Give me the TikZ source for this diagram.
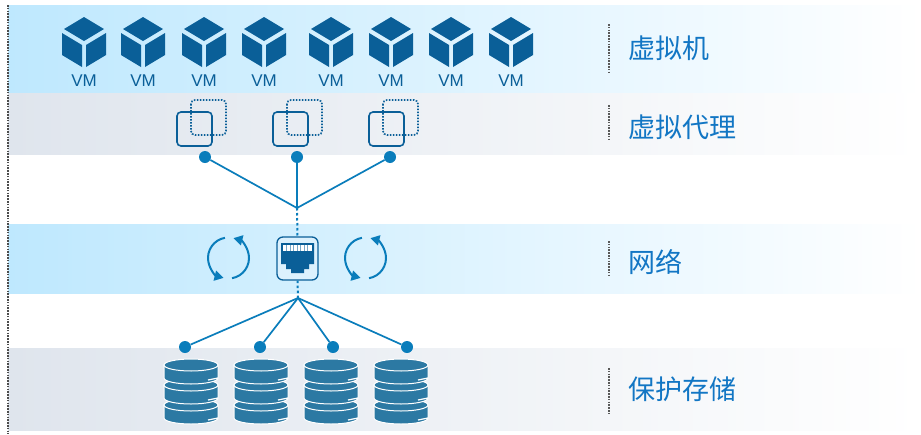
\documentclass[tikz,border=0pt]{standalone}
\usepackage{fontspec}
\setmainfont{Liberation Sans}
\newfontfamily\cjk{Noto Sans CJK SC}
\usetikzlibrary{arrows.meta}
\definecolor{vmblue}{HTML}{0A5F98}
\definecolor{diskblue}{HTML}{2C79A3}
\definecolor{linkblue}{HTML}{0A7DBB}
\definecolor{textblue}{HTML}{1276C4}
\definecolor{bandblue}{HTML}{BEE8FE}
\definecolor{bandbluemid}{HTML}{D8F0FE}
\definecolor{bandgrey}{HTML}{DFE5ED}
\definecolor{bandgreymid}{HTML}{EBEEF3}
\definecolor{portfill}{HTML}{DCF1FD}
\tikzset{
    blueband/.style={left color=bandblue, middle color=bandbluemid, right color=white, draw=none},
    greyband/.style={left color=bandgrey, middle color=bandgreymid, right color=white, draw=none},
    layertext/.style={font=\cjk\fontsize{27}{27}\selectfont, text=textblue, anchor=west, inner sep=0pt},
    sepline/.style={draw=black!65, line width=1.6pt, dash pattern=on 1.6pt off 1.2pt},
    linkdot/.style={circle, fill=linkblue, inner sep=0pt, minimum size=12pt},
    link/.style={draw=linkblue, line width=1.7pt},
    dotlink/.style={draw=linkblue, line width=2pt, dash pattern=on 2.5pt off 2.5pt},
    looparrow/.style={draw=linkblue, line width=2pt, -{Triangle[length=9pt,width=10pt]}},
    disk/.pic={
        \fill[diskblue, draw=white, line width=1pt] (-27,0) -- (-27,13) arc (180:0:27 and 6) -- (27,0) -- cycle;
        \fill[diskblue, draw=white, line width=1pt] (0,0) ellipse (27 and 6);
        \draw[white, line width=1.2pt] (17,15) -- (27,13);
    },
}
\begin{document}
\begin{tikzpicture}[x=1pt,y=-1pt]
    \useasboundingbox (0,0) rectangle (921,434);

    % bands
    \shade[blueband] (8,5) rectangle (921,93);
    \shade[greyband] (8,93) rectangle (921,154);
    \shade[blueband] (8,224) rectangle (921,293);
    \shade[greyband] (8,348) rectangle (921,430);
    \draw[draw=black!70, line width=1.6pt, dash pattern=on 1.5pt off 1.3pt] (8,5) -- (8,434);

    % virtual machines
    \foreach \vx in {84,143,204,264,331,391,451,511} {
        \fill[vmblue] (\vx,17) -- (\vx+20,29) -- (\vx,41) -- (\vx-20,29) -- cycle;
        \fill[vmblue] (\vx-22,33) -- (\vx-2,45) -- (\vx-2,67) -- (\vx-22,55) -- cycle;
        \fill[vmblue] (\vx+22,33) -- (\vx+2,45) -- (\vx+2,67) -- (\vx+22,55) -- cycle;
        \node[text=vmblue, font=\fontsize{17}{17}\selectfont, inner sep=0pt] at (\vx,81) {VM};
    }

    % virtual proxies
    \foreach \px in {177,273,369} {
        \draw[vmblue, line width=1.6pt, rounded corners=4pt] (\px,112) rectangle (\px+35,146);
        \draw[vmblue, line width=1.6pt, rounded corners=4pt, dash pattern=on 1.6pt off 1.4pt] (\px+14,100) rectangle (\px+49,135);
    }

    % network port
    \node[draw=vmblue, line width=1.3pt, rounded corners=6pt, fill=portfill, minimum width=41pt, minimum height=43pt, inner sep=0pt] (port) at (297.5,258.5) {};
    \fill[vmblue] (281,243) -- (314,243) -- (314,264) -- (309,264) -- (309,269) -- (304,269) -- (304,273) -- (291,273) -- (291,269) -- (286,269) -- (286,264) -- (281,264) -- cycle;
    \fill[white] (283,245) rectangle (312,251);
    \foreach \sx in {286.5,290,...,310} {
        \draw[vmblue!55!white, line width=0.6pt] (\sx,245) -- (\sx,251);
    }
    \foreach \cx in {228.5,365.5} {
        \draw[looparrow] (\cx,258) ++(-100:20.5) arc (-100:-256:20.5);
        \draw[looparrow] (\cx,258) ++(80:20.5) arc (80:-76:20.5);
    }

    % links
    \node[linkdot] (proxya) at (205,157) {};
    \node[linkdot] (proxyb) at (297,157) {};
    \node[linkdot] (proxyc) at (390,157) {};
    \coordinate (hubtop) at (297,208);
    \coordinate (hubbot) at (298,298);
    \foreach \n in {proxya,proxyb,proxyc} {
        \draw[link] (\n) -- (hubtop);
    }
    \draw[dotlink] (hubtop) -- (port.north);
    \draw[dotlink] (port.south) -- (hubbot);

    \node[linkdot] (diska) at (185,347) {};
    \node[linkdot] (diskb) at (260,347) {};
    \node[linkdot] (diskc) at (333,347) {};
    \node[linkdot] (diskd) at (407,347) {};
    \foreach \n in {diska,diskb,diskc,diskd} {
        \draw[link] (\n) -- (hubbot);
    }

    % storage
    \foreach \dx in {191,261,331,401} {
        \pic at (\dx,405) {disk};
        \pic at (\dx,385) {disk};
        \pic at (\dx,365) {disk};
    }

    % labels
    \draw[sepline] (609,24) -- (609,72);
    \draw[sepline] (609,105) -- (609,141);
    \draw[sepline] (609,241) -- (609,276);
    \draw[sepline] (609,368) -- (609,414);
    \node[layertext] (vmlabel) at (628,48) {虚拟机};
    \node[layertext] (proxylabel) at (628,127) {虚拟代理};
    \node[layertext] (netlabel) at (628,262) {网络};
    \node[layertext] (storelabel) at (628,389) {保护存储};
\end{tikzpicture}
\end{document}
